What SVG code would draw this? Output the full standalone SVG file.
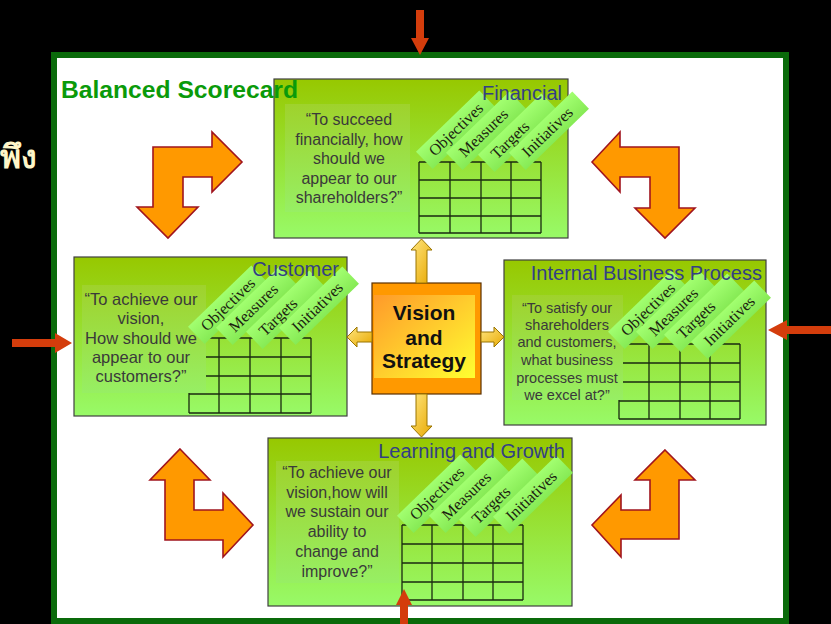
<svg xmlns="http://www.w3.org/2000/svg" width="831" height="624" viewBox="0 0 831 624">
<defs>
<linearGradient id="boxg" x1="0" y1="0" x2="0" y2="1"><stop offset="0" stop-color="#97c800"/><stop offset="1" stop-color="#98fa68"/></linearGradient>
<linearGradient id="tag" x1="0" y1="0" x2="0" y2="1"><stop offset="0" stop-color="#a2ff70"/><stop offset="1" stop-color="#86ea55"/></linearGradient>
<linearGradient id="tarea" x1="0" y1="0" x2="0" y2="1"><stop offset="0" stop-color="#9fd22c"/><stop offset="1" stop-color="#97ef64"/></linearGradient>
<linearGradient id="yel" x1="0" y1="0" x2="1" y2="1"><stop offset="0" stop-color="#ffe680"/><stop offset="1" stop-color="#e8a800"/></linearGradient>
<linearGradient id="vis" x1="0" y1="0" x2="1" y2="1"><stop offset="0" stop-color="#ff9a2a"/><stop offset="1" stop-color="#ffff30"/></linearGradient>
<style>
.box{fill:url(#boxg);stroke:#404040;stroke-width:1.2}
.ta{fill:url(#tarea)}
.title{font-family:"Liberation Sans",Arial,sans-serif;font-size:20px;fill:#333f85;text-anchor:end}
.body{font-family:"Liberation Sans",Arial,sans-serif;fill:#3a3a3a;text-anchor:middle}
.grid{fill:none;stroke:#1a2a10;stroke-width:1.3}
.tagr{fill:url(#tag)}
.tagt{font-family:"Liberation Serif","Times New Roman",serif;font-size:16px;fill:#1c2410}
.bent{fill:#ff9900;stroke:#a0141e;stroke-width:1.6;stroke-linejoin:miter}
.red{fill:#d43d0c}
.yel{fill:url(#yel);stroke:#9a7400;stroke-width:1}
</style>
<g id="tags">
<g id="t-obj"><rect class="tagr" x="-10" y="-17" width="88" height="24"/><text class="tagt" x="0" y="0">Objectives</text></g>
<g id="t-mea"><rect class="tagr" x="-10" y="-17" width="88" height="24"/><text class="tagt" x="0" y="0">Measures</text></g>
<g id="t-tar"><rect class="tagr" x="-10" y="-17" width="88" height="24"/><text class="tagt" x="0" y="0">Targets</text></g>
<g id="t-ini"><rect class="tagr" x="-10" y="-17" width="88" height="24"/><text class="tagt" x="0" y="0">Initiatives</text></g>
</g>
</defs>
<rect x="0" y="0" width="831" height="624" fill="#000"/>
<text x="37" y="168" font-family="'Noto Sans','DejaVu Sans',sans-serif" font-size="32" font-weight="bold" fill="#fff6c8" text-anchor="end">พึง</text>
<rect x="54" y="55" width="732" height="566" fill="#fff" stroke="#0a6a0a" stroke-width="6"/>

<g id="cycle-arrows">
<polygon class="bent" points="153,147 212,147 212,132 242,162 212,192 212,177 183,177 183,207 198,207 168,238 137,207 153,207"/>
<polygon class="bent" points="592,162 620,132 620,147 679,147 679,208 695,208 665,238 635,208 650,208 650,177 620,177 620,192"/>
<polygon class="bent" points="180,449 210,480 194,480 194,510 223,510 223,493 253,525 223,557 223,540 165,540 165,480 150,480"/>
<polygon class="bent" points="665,450 695,480 679,480 679,539 621,539 621,557 592,525 621,495 621,510 650,510 650,480 635,480"/>
</g>

<g id="financial">
<rect class="box" x="274" y="79" width="294" height="159"/>
<path class="grid" d="M419 162H541M419 180H541M419 198H541M419 216H541M419 233H541M419 162V233M450 162V233M481 162V233M511 162V233M541 162V233"/>
<rect class="ta" x="285" y="104" width="125" height="108"/>
<text class="body" font-size="16"><tspan x="349" y="125">“To succeed</tspan><tspan x="349" y="145">financially, how</tspan><tspan x="349" y="164">should we</tspan><tspan x="349" y="184">appear to our</tspan><tspan x="349" y="203">shareholders?”</tspan></text>
<use href="#t-obj" transform="translate(435,157) rotate(-44)"/>
<use href="#t-mea" transform="translate(465,158) rotate(-44)"/>
<use href="#t-tar" transform="translate(497,160) rotate(-44)"/>
<use href="#t-ini" transform="translate(528,158) rotate(-44)"/>
<text class="title" x="562" y="100">Financial</text>
</g>

<g id="customer">
<rect class="box" x="74" y="257" width="273" height="159"/>
<path class="grid" d="M189 338H311M189 357H311M189 376H311M189 394H311M189 413H311M189 338V413M219 338V413M250 338V413M281 338V413M311 338V413"/>
<rect class="ta" x="82" y="285" width="124" height="108"/>
<text class="body" font-size="16.5"><tspan x="141" y="305">“To achieve our</tspan><tspan x="141" y="324">vision,</tspan><tspan x="141" y="344">How should we</tspan><tspan x="141" y="363">appear to our</tspan><tspan x="141" y="382">customers?”</tspan></text>
<use href="#t-obj" transform="translate(207,332) rotate(-44)"/>
<use href="#t-mea" transform="translate(235,333) rotate(-44)"/>
<use href="#t-tar" transform="translate(265,337) rotate(-44)"/>
<use href="#t-ini" transform="translate(298,333) rotate(-44)"/>
<text class="title" x="339" y="276">Customer</text>
</g>

<g id="internal">
<rect class="box" x="504" y="260" width="262" height="165"/>
<path class="grid" d="M619 344H740M619 363H740M619 382H740M619 401H740M619 419H740M619 344V419M649 344V419M680 344V419M710 344V419M740 344V419"/>
<rect class="ta" x="512" y="295" width="111" height="105"/>
<text class="body" font-size="14.5"><tspan x="567" y="313">“To satisfy our</tspan><tspan x="567" y="330">shareholders</tspan><tspan x="567" y="347">and customers,</tspan><tspan x="567" y="365">what business</tspan><tspan x="567" y="383">processes must</tspan><tspan x="567" y="400">we excel at?”</tspan></text>
<use href="#t-obj" transform="translate(627,337) rotate(-44)"/>
<use href="#t-mea" transform="translate(655,337) rotate(-44)"/>
<use href="#t-tar" transform="translate(683,340) rotate(-44)"/>
<use href="#t-ini" transform="translate(710,347) rotate(-44)"/>
<text class="title" x="762" y="280">Internal Business Process</text>
</g>

<g id="learning">
<rect class="box" x="268" y="438" width="304" height="168"/>
<path class="grid" d="M402 525H523M402 544H523M402 563H523M402 582H523M402 600H523M402 525V600M432 525V600M463 525V600M493 525V600M523 525V600"/>
<rect class="ta" x="276" y="461" width="123" height="122"/>
<text class="body" font-size="16"><tspan x="337" y="478">“To achieve our</tspan><tspan x="337" y="498">vision,how will</tspan><tspan x="337" y="517">we sustain our</tspan><tspan x="337" y="537">ability to</tspan><tspan x="337" y="557">change and</tspan><tspan x="337" y="577">improve?”</tspan></text>
<use href="#t-obj" transform="translate(416,521) rotate(-44)"/>
<use href="#t-mea" transform="translate(448,521) rotate(-44)"/>
<use href="#t-tar" transform="translate(478,525) rotate(-44)"/>
<use href="#t-ini" transform="translate(512,522) rotate(-44)"/>
<text class="title" x="565" y="458">Learning and Growth</text>
</g>

<g id="vision">
<rect x="372" y="283" width="109" height="111" fill="#ff9900" stroke="#5a3000" stroke-width="1.2"/>
<rect x="374" y="295" width="101" height="83" fill="url(#vis)"/>
<text font-family="'Liberation Sans',Arial,sans-serif" font-weight="bold" font-size="21" fill="#111" text-anchor="middle"><tspan x="424" y="320">Vision</tspan><tspan x="424" y="345">and</tspan><tspan x="424" y="368">Strategy</tspan></text>
</g>

<g id="connectors">
<polygon class="yel" points="421.5,239 432,250 427,250 427,283 416,283 416,250 411,250"/>
<polygon class="yel" points="416,394 427,394 427,426 432,426 421.5,437 411,426 416,426"/>
<polygon class="yel" points="372,332 372,342 357,342 357,347 347,337 357,327 357,332"/>
<polygon class="yel" points="481,332 494,332 494,327 504,337 494,347 494,342 481,342"/>
</g>

<g id="input-arrows">
<polygon class="red" points="416,10 424,10 424,38 429,38 420,55 411,38 416,38"/>
<polygon class="red" points="12,339 55,339 55,333 72,343 55,353 55,347 12,347"/>
<polygon class="red" points="831,326 787,326 787,320 768,330 787,340 787,334 831,334"/>
<polygon class="red" points="400,624 400,605 396,605 404,589 412,605 408,605 408,624"/>
</g>

<text id="bsc-title" x="61" y="98" font-family="'Liberation Sans',Arial,sans-serif" font-weight="bold" font-size="24" fill="#0a9a0a" textLength="237" lengthAdjust="spacingAndGlyphs">Balanced Scorecard</text>
</svg>
